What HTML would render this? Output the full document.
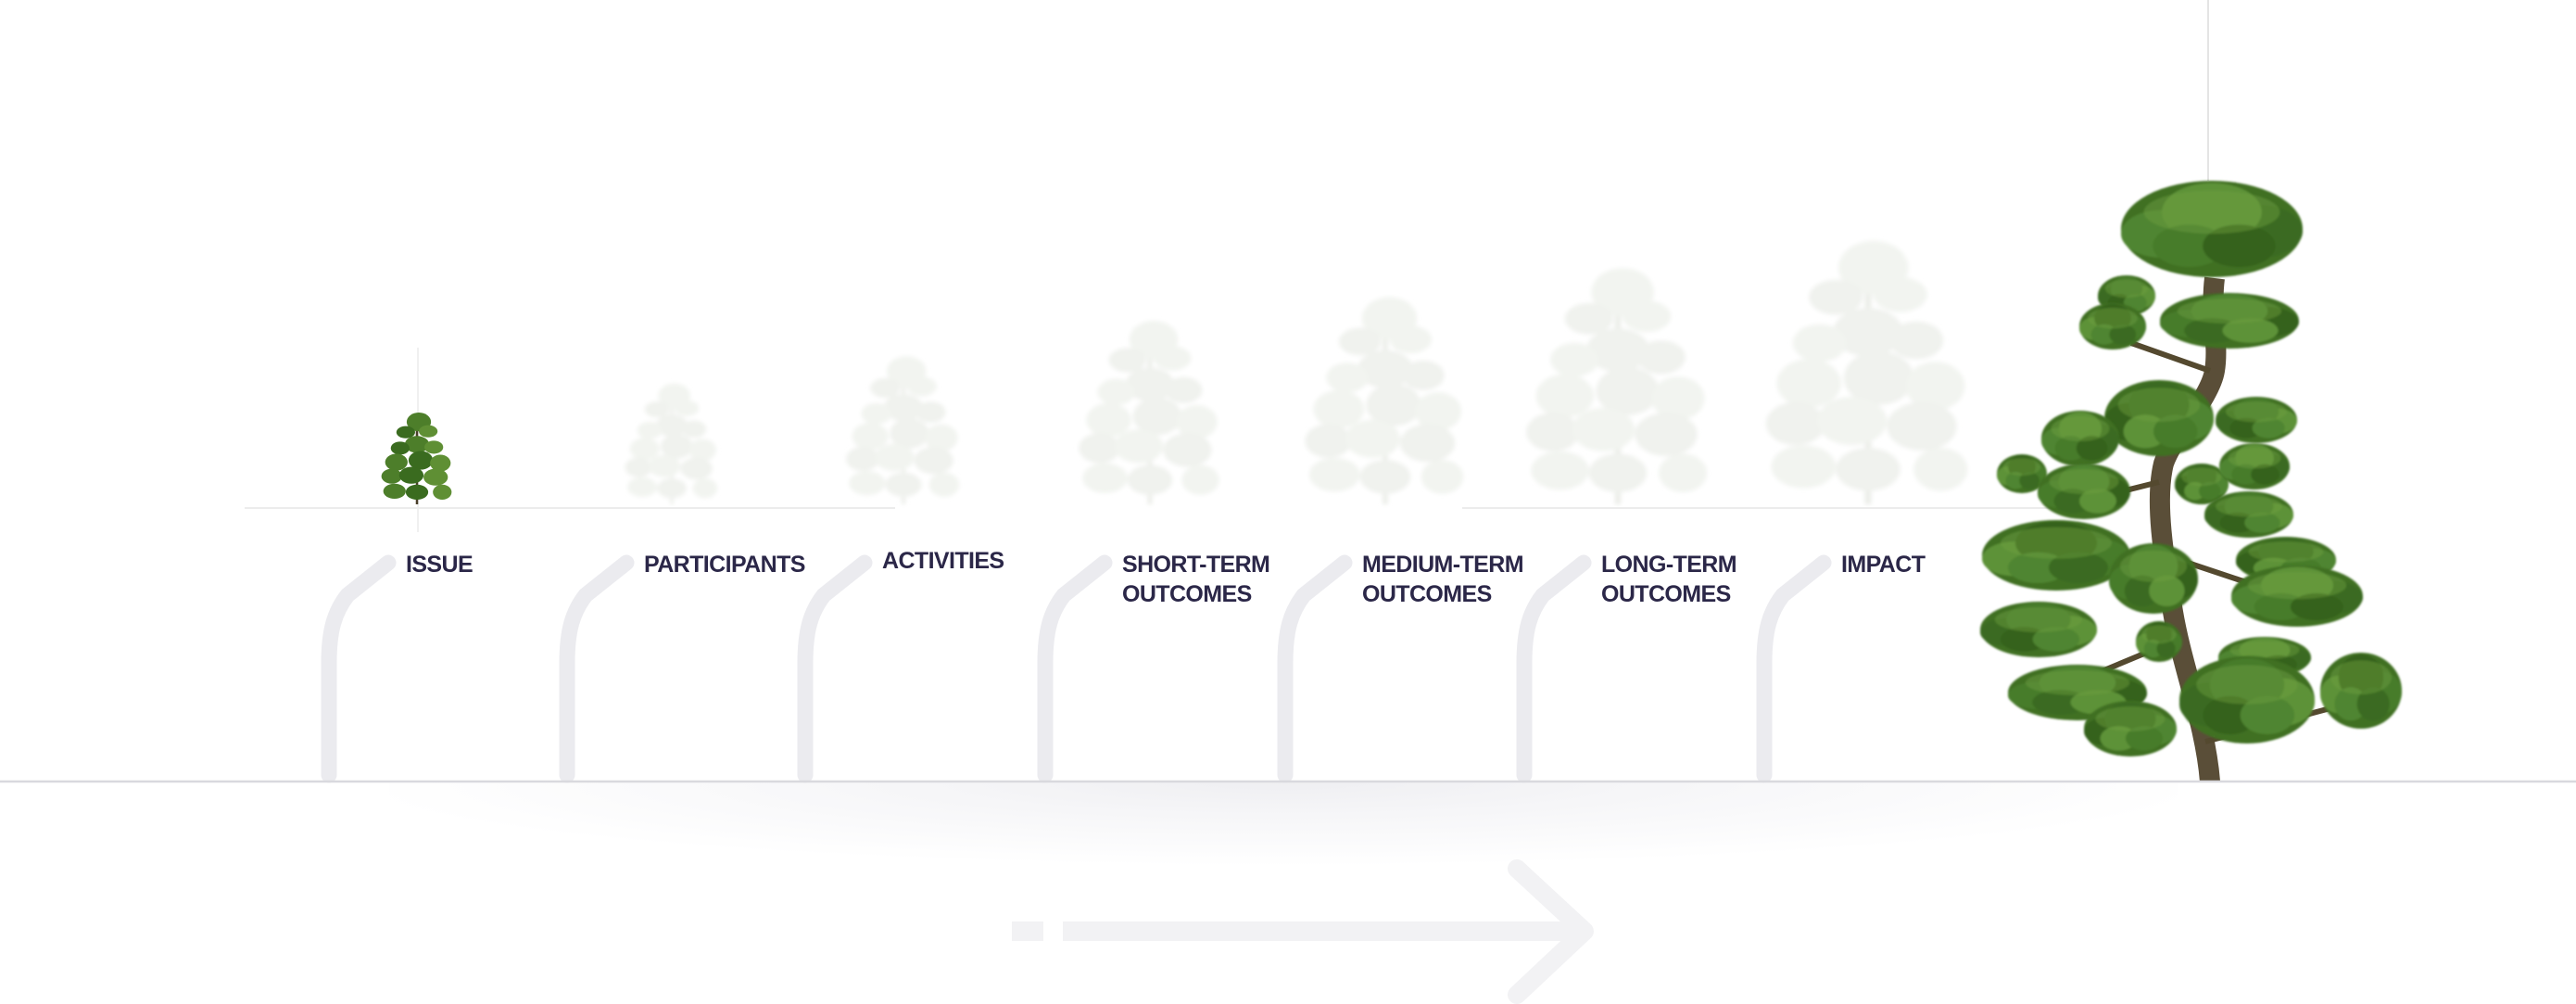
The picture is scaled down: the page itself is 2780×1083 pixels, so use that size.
<!DOCTYPE html>
<html><head><meta charset="utf-8"><style>
html,body{margin:0;padding:0;background:#fff}
body{width:2780px;height:1083px;overflow:hidden;position:relative;font-family:"Liberation Sans",Arial,sans-serif}
.lbl{position:absolute;font-weight:bold;font-size:25px;line-height:32px;color:#2b2748;letter-spacing:-0.6px;white-space:nowrap}
</style></head><body>
<div style="position:absolute;left:420px;top:844px;width:1930px;height:90px;background:radial-gradient(ellipse 52% 100% at 50% 0%,#efeff2 0%,#f6f6f8 40%,rgba(255,255,255,0) 100%)"></div>
<svg id="scene" width="2780" height="1083" style="position:absolute;left:0;top:0">
<defs>
<filter id="soft"><feGaussianBlur stdDeviation="2.5"/></filter>
<filter id="tex"><feGaussianBlur stdDeviation="1"/></filter>
</defs>
<g id="guides">
<line x1="264" y1="548" x2="966" y2="548" stroke="#ececec" stroke-width="2"/>
<line x1="1578" y1="548" x2="2230" y2="548" stroke="#ececec" stroke-width="2"/>
<line x1="451" y1="375" x2="451" y2="574" stroke="#ececec" stroke-width="1.5"/>
<line x1="2383" y1="0" x2="2383" y2="195" stroke="#e4e4e4" stroke-width="2"/>
</g>
<g id="connectors"></g>
<g id="trees"></g>
<g id="bigtree"></g>
<line x1="0" y1="843" x2="2780" y2="843" stroke="#d9d9de" stroke-width="2.5"/>
<g fill="#f2f2f4" stroke="#f2f2f4">
<rect x="1092" y="994" width="34" height="21" stroke="none"/>
<rect x="1147" y="994" width="562" height="21" stroke="none"/>
<polyline points="1637,937 1710,1004.5 1637,1073" fill="none" stroke-width="20" stroke-linecap="round" stroke-linejoin="round"/>
</g>
</svg>
<div id="labels"></div>
<script>
const NS='http://www.w3.org/2000/svg';
const stageLabels=[["ISSUE"],["PARTICIPANTS"],["ACTIVITIES"],["SHORT-TERM","OUTCOMES"],["MEDIUM-TERM","OUTCOMES"],["LONG-TERM","OUTCOMES"],["IMPACT"]];
const connectorX=[355,612,869,1128,1387,1645,1904];
const labelTop=[600,600,596,600,600,600,600];
const treeCenterX=[450,725,975,1241,1495,1746,2016];
const treeHeights=[101,133,163,202,228,260,290];
const treeBase=544;
function mk(tag,attrs){const e=document.createElementNS(NS,tag);for(const k in attrs)e.setAttribute(k,attrs[k]);return e;}
const conG=document.getElementById('connectors');
connectorX.forEach((x,i)=>{
  const p=mk('path',{d:`M${x} 836 V715 C${x} 680 ${x+6} 660 ${x+20} 642 L${x+64} 607`,fill:'none',stroke:'#ebebef','stroke-width':17,'stroke-linecap':'round'});
  
  
  conG.appendChild(p);
});
const lab=document.getElementById('labels');
stageLabels.forEach((l,i)=>{
  const d=document.createElement('div');
  d.className='lbl';
  d.style.left=(connectorX[i]+83)+'px';
  d.style.top=(labelTop[i]-7)+'px';
  d.innerHTML=l.join('<br>');
  
  
  lab.appendChild(d);
});
const clumps=[[0.02,0.88,0.13,0.1],[-0.12,0.77,0.1,0.065],[0.12,0.78,0.1,0.065],[0,0.64,0.13,0.09],[-0.18,0.6,0.1,0.07],[0.18,0.61,0.1,0.07],[-0.22,0.45,0.12,0.09],[0.04,0.47,0.13,0.1],[0.25,0.44,0.11,0.09],[-0.27,0.3,0.11,0.08],[-0.06,0.31,0.13,0.09],[0.2,0.29,0.13,0.09],[-0.24,0.14,0.12,0.08],[0.0,0.13,0.12,0.08],[0.27,0.13,0.1,0.08]];
const tg=document.getElementById('trees');
treeCenterX.forEach((cx,i)=>{
  const h=treeHeights[i];const green=i===0;
  const g=mk('g',green?{}:{filter:'url(#soft)'});
  
  
  g.appendChild(mk('path',{d:`M${cx} ${treeBase} L${cx} ${treeBase-h*0.88}`,stroke:green?'#4a3f2a':'#eceee9','stroke-width':Math.max(2,h*0.025),fill:'none'}));
  clumps.forEach((c,j)=>{
    g.appendChild(mk('ellipse',{cx:cx+c[0]*h,cy:treeBase-c[1]*h,rx:c[2]*h,ry:c[3]*h,fill:green?(j%3===0?'#4d7e2a':j%3===1?'#3a6b1f':'#5f8f34'):(j%2?'#f0f2ee':'#f2f4f0')}));
  });
  tg.appendChild(g);
});
const bigClumps=[[2387,247,98,52],[2295,319,31,22],[2280,352,36,25],[2406,346,75,30],[2330,451,59,41],[2245,473,42,30],[2435,453,44,25],[2182,511,27,21],[2249,530,50,30],[2376,522,29,22],[2433,503,38,25],[2427,555,48,25],[2219,599,80,38],[2324,624,48,38],[2467,604,54,25],[2479,643,71,33],[2200,679,63,30],[2330,692,25,22],[2242,747,75,30],[2299,786,50,30],[2444,709,50,22],[2425,755,73,47],[2548,745,44,41]];
const bg=document.getElementById('bigtree');
const bt=mk('g',{});


bt.appendChild(mk('path',{d:'M2385 843 C2380 780 2355 720 2345 660 C2335 600 2325 540 2335 500 C2345 470 2385 430 2390 400 C2395 370 2385 340 2390 300',stroke:'#5a4e38','stroke-width':22,fill:'none'}));
bt.appendChild(mk('path',{d:'M2330 520 L2230 545 M2340 600 L2460 640 M2350 690 L2230 740 M2380 800 L2530 760 M2385 400 L2300 370',stroke:'#54492f','stroke-width':6,fill:'none'}));
const offs=[[-0.55,0.1,0.45],[0.5,0.05,0.5],[0,-0.35,0.55],[-0.25,0.35,0.4],[0.3,0.35,0.4]];
bigClumps.forEach((c,j)=>{
  const cg=mk('g',{filter:'url(#tex)'});
  cg.appendChild(mk('ellipse',{cx:c[0],cy:c[1],rx:c[2],ry:c[3],fill:'#3f7024'}));
  offs.forEach((o,k)=>{
    cg.appendChild(mk('ellipse',{cx:c[0]+o[0]*c[2],cy:c[1]+o[1]*c[3],rx:c[2]*o[2],ry:c[3]*o[2]*1.1,fill:['#4f8530','#3a6a20','#5d9237','#477b2a','#35621d'][(j+k)%5]}));
  });
  cg.appendChild(mk('ellipse',{cx:c[0],cy:c[1]-c[3]*0.35,rx:c[2]*0.75,ry:c[3]*0.45,fill:'#6e9f40',opacity:0.45}));
  bt.appendChild(cg);
});
bg.appendChild(bt);
</script>
</body></html>
